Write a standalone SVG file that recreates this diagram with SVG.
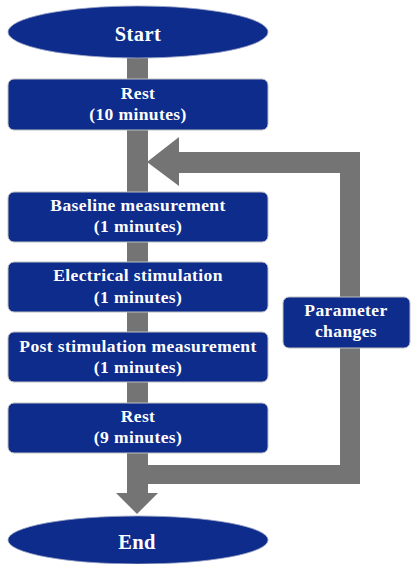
<svg xmlns="http://www.w3.org/2000/svg" width="411" height="564" viewBox="0 0 411 564">
<style>
.n{fill:#0d2c8c;stroke:#bfbfbf;stroke-width:1}
.e{fill:#0d2c8c;stroke:#9aa3c4;stroke-width:0.8}
.t{fill:#fff;font-family:"Liberation Serif","Times New Roman",serif;font-weight:bold;font-size:17.5px;letter-spacing:0.4px;text-anchor:middle}
.tl{font-size:20.5px}
.c{fill:#747474}
</style>
<rect width="411" height="564" fill="#fff"/>
<g id="connectors">
<rect class="c" x="127" y="58" width="21" height="436"/>
<polygon class="c" points="116,493 158,493 137,514"/>
<polygon class="c" points="147,162 179,137 179,152 360,152 360,484 148,484 148,465 340,465 340,173 179,173 179,186"/>
</g>
<g id="start">
<ellipse class="e" cx="138" cy="32" rx="130" ry="26"/>
<text class="t tl" x="138" y="41">Start</text>
</g>
<g id="rest10">
<rect class="n" x="8" y="79" width="260" height="51" rx="6"/>
<text class="t" x="138" y="99">Rest</text>
<text class="t" x="138" y="120">(10 minutes)</text>
</g>
<g id="baseline">
<rect class="n" x="8" y="192" width="260" height="50" rx="6"/>
<text class="t" x="138" y="211">Baseline measurement</text>
<text class="t" x="138" y="232">(1 minutes)</text>
</g>
<g id="electrical">
<rect class="n" x="8" y="262" width="260" height="50" rx="6"/>
<text class="t" x="138" y="281">Electrical stimulation</text>
<text class="t" x="138" y="303">(1 minutes)</text>
</g>
<g id="post">
<rect class="n" x="8" y="332" width="260" height="50" rx="6"/>
<text class="t" x="138" y="352">Post stimulation measurement</text>
<text class="t" x="138" y="373">(1 minutes)</text>
</g>
<g id="rest9">
<rect class="n" x="8" y="403" width="260" height="50" rx="6"/>
<text class="t" x="138" y="422">Rest</text>
<text class="t" x="138" y="443">(9 minutes)</text>
</g>
<g id="param">
<rect class="n" x="283" y="297" width="127" height="51" rx="6"/>
<text class="t" x="346" y="316">Parameter</text>
<text class="t" x="346" y="337">changes</text>
</g>
<g id="end">
<ellipse class="e" cx="138" cy="540" rx="130" ry="24"/>
<text class="t tl" x="137" y="549">End</text>
</g>
</svg>
